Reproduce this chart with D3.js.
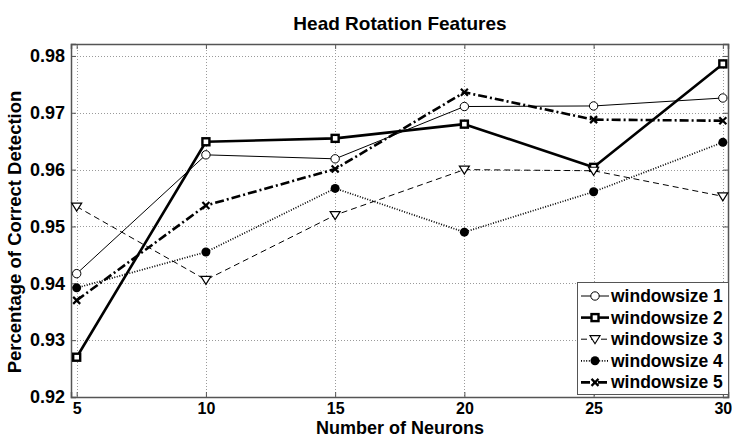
<!DOCTYPE html>
<html>
<head>
<meta charset="utf-8">
<script src="https://cdn.jsdelivr.net/npm/d3@7/dist/d3.min.js"></script>
<style>
  html, body { margin: 0; padding: 0; background: #fff; }
  svg { display: block; font-family: "Liberation Sans", Arial, sans-serif; }
</style>
</head>
<body>
<svg id="chart" width="732" height="438"></svg>
<script>
// Neuron counts on the x axis
const neurons = [5, 10, 15, 20, 25, 30];

// Detection rate per window size
const ws1 = [0.9417, 0.9626, 0.9619, 0.9711, 0.9712, 0.9726];
const ws2 = [0.9270, 0.9649, 0.9655, 0.9680, 0.9604, 0.9786];
const ws3 = [0.9535, 0.9406, 0.9520, 0.9600, 0.9598, 0.9553];
const ws4 = [0.9392, 0.9455, 0.9567, 0.9490, 0.9561, 0.9648];
const ws5 = [0.9370, 0.9537, 0.9601, 0.9736, 0.9688, 0.9686];

const seriesNames = ["windowsize 1", "windowsize 2", "windowsize 3", "windowsize 4", "windowsize 5"];
const yTicks = [0.92, 0.93, 0.94, 0.95, 0.96, 0.97, 0.98];
const xTicks = [5, 10, 15, 20, 25, 30];

const styles = [
  { values: ws1, width: 1,   dash: null,        marker: "circle" },
  { values: ws2, width: 2.6, dash: null,        marker: "square" },
  { values: ws3, width: 1,   dash: "6,4",       marker: "triangle" },
  { values: ws4, width: 1.7, dash: "1,1.6",     marker: "dot" },
  { values: ws5, width: 2.6, dash: "9,3,2,3",   marker: "cross" }
];

const svg = d3.select("#chart");
const plotL = 71, plotR = 728, plotT = 44, plotB = 397;

const x = d3.scaleLinear().domain([4.78, 30.2]).range([plotL, plotR]);
const y = d3.scaleLinear().domain([0.92, 0.9821]).range([plotB, plotT]);

// grid
const grid = svg.append("g").attr("stroke", "#9a9a9a").attr("stroke-width", 1)
  .attr("stroke-dasharray", "1,2");
grid.selectAll("line.gx").data(xTicks).enter().append("line")
  .attr("x1", d => Math.round(x(d)) + 0.5).attr("x2", d => Math.round(x(d)) + 0.5)
  .attr("y1", plotT).attr("y2", plotB);
grid.selectAll("line.gy").data(yTicks).enter().append("line")
  .attr("x1", plotL).attr("x2", plotR)
  .attr("y1", d => Math.round(y(d)) + 0.5).attr("y2", d => Math.round(y(d)) + 0.5);

// axes (ticks inward, box)
const axisColor = "#555";
const xAxis = d3.axisBottom(x).tickValues(xTicks).tickSize(-5).tickFormat(d3.format("d")).tickPadding(6);
const yAxis = d3.axisLeft(y).tickValues(yTicks).tickSize(-5).tickFormat(d3.format(".2f")).tickPadding(6);
const xTop = d3.axisTop(x).tickValues(xTicks).tickSize(-5).tickFormat("");
const yRight = d3.axisRight(y).tickValues(yTicks).tickSize(-5).tickFormat("");

function styleAxis(g, size) {
  g.select(".domain").attr("stroke", axisColor).attr("stroke-width", 1.5);
  g.selectAll(".tick line").attr("stroke", axisColor);
  g.selectAll(".tick text").attr("fill", "#000").attr("font-size", size)
    .attr("font-weight", "bold").attr("font-family", "'Liberation Sans', Arial, sans-serif");
}
svg.append("g").attr("transform", `translate(0,${plotB})`).call(xAxis).call(styleAxis, 16);
svg.append("g").attr("transform", `translate(${plotL},0)`).call(yAxis).call(styleAxis, 18);
svg.append("g").attr("transform", `translate(0,${plotT})`).call(xTop).call(styleAxis, 16);
svg.append("g").attr("transform", `translate(${plotR},0)`).call(yRight).call(styleAxis, 16);

// marker drawing
function drawMarker(g, kind, cx, cy) {
  if (kind === "circle") {
    g.append("circle").attr("cx", cx).attr("cy", cy).attr("r", 4.2)
      .attr("fill", "#fff").attr("stroke", "#000").attr("stroke-width", 1);
  } else if (kind === "square") {
    g.append("rect").attr("x", cx - 3.5).attr("y", cy - 3.5).attr("width", 7).attr("height", 7)
      .attr("fill", "#fff").attr("stroke", "#000").attr("stroke-width", 2.4);
  } else if (kind === "triangle") {
    const s = 5;
    g.append("path").attr("d", `M${cx - s},${cy - s * 0.7} L${cx + s},${cy - s * 0.7} L${cx},${cy + s * 0.9} Z`)
      .attr("fill", "#fff").attr("stroke", "#000").attr("stroke-width", 1.2);
  } else if (kind === "dot") {
    g.append("circle").attr("cx", cx).attr("cy", cy).attr("r", 4.5).attr("fill", "#000");
  } else if (kind === "cross") {
    const s = 3.5;
    g.append("path").attr("d", `M${cx - s},${cy - s} L${cx + s},${cy + s} M${cx - s},${cy + s} L${cx + s},${cy - s}`)
      .attr("stroke", "#000").attr("stroke-width", 2.2).attr("fill", "none");
  }
}

// series
const line = d3.line().x((d, i) => x(neurons[i])).y(d => y(d));
styles.forEach(s => {
  const g = svg.append("g");
  g.append("path").datum(s.values).attr("d", line)
    .attr("fill", "none").attr("stroke", "#000").attr("stroke-width", s.width)
    .attr("stroke-dasharray", s.dash).attr("stroke-linejoin", "round");
  s.values.forEach((v, i) => drawMarker(g, s.marker, x(neurons[i]), y(v)));
});

// legend
const lg = svg.append("g");
const lx = 577, ly = 282, lw = 151, lh = 112;
lg.append("rect").attr("x", lx + 0.5).attr("y", ly + 0.5).attr("width", lw).attr("height", lh)
  .attr("fill", "#fff").attr("stroke", "#555").attr("stroke-width", 1);
styles.forEach((s, i) => {
  const cy = ly + 14 + i * 21.6;
  lg.append("line").attr("x1", lx + 4).attr("x2", lx + 32).attr("y1", cy).attr("y2", cy)
    .attr("stroke", "#000").attr("stroke-width", s.width).attr("stroke-dasharray", s.dash);
  drawMarker(lg, s.marker, lx + 18, cy);
  lg.append("text").attr("x", lx + 34).attr("y", cy + 6).text(seriesNames[i])
    .attr("font-size", 17.5).attr("font-weight", "bold");
});

// titles
svg.append("text").attr("x", 400).attr("y", 30).attr("text-anchor", "middle")
  .attr("font-size", 19).attr("font-weight", "bold").text("Head Rotation Features");
svg.append("text").attr("x", 400).attr("y", 434).attr("text-anchor", "middle")
  .attr("font-size", 18).attr("font-weight", "bold").text("Number of Neurons");
svg.append("text").attr("transform", "translate(21,232) rotate(-90)").attr("text-anchor", "middle")
  .attr("font-size", 18.5).attr("font-weight", "bold").text("Percentage of Correct Detection");
</script>
</body>
</html>
